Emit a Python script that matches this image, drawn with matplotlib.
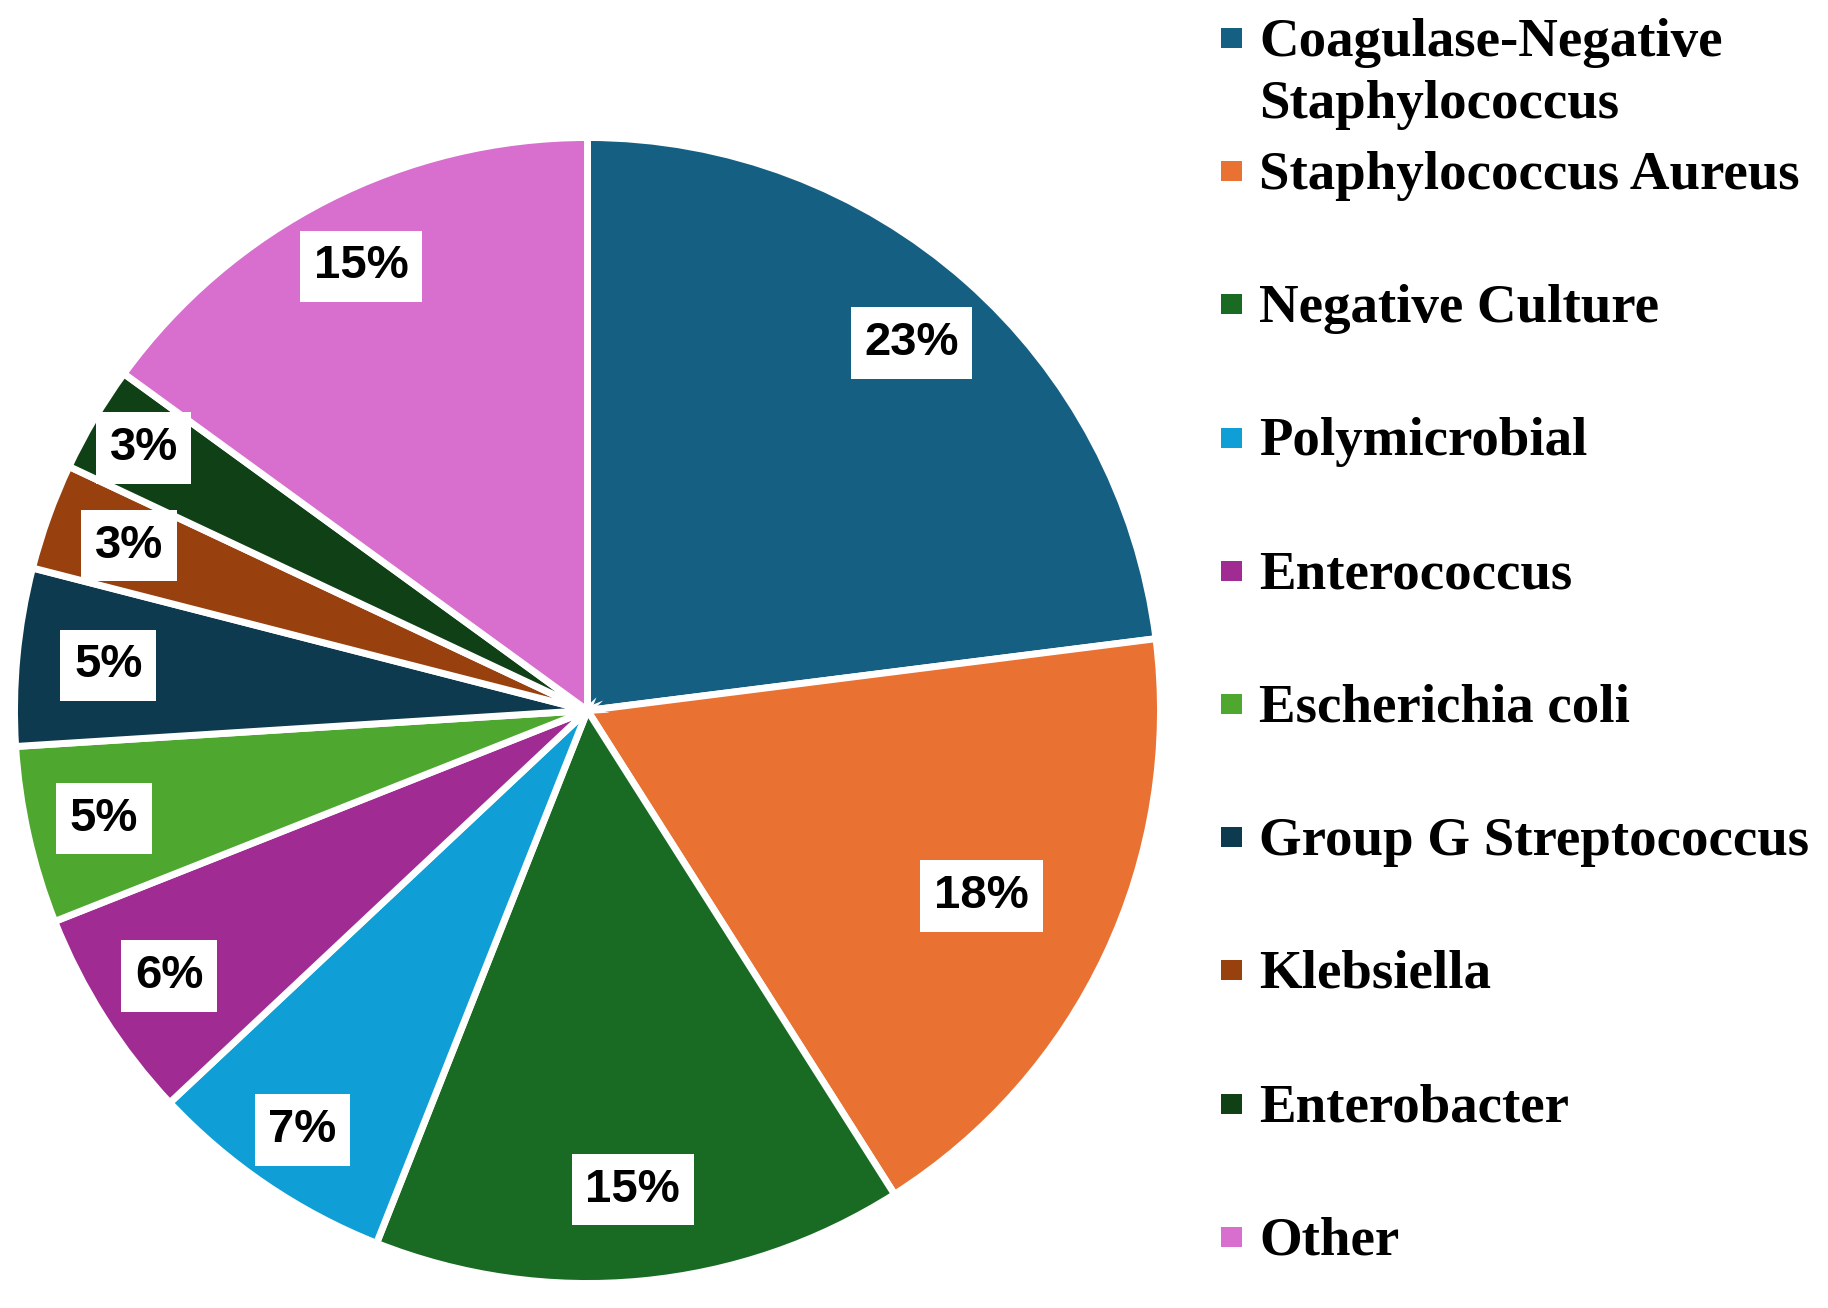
import matplotlib
matplotlib.use("Agg")
import matplotlib.pyplot as plt
from matplotlib.patches import Rectangle
import numpy as np

# ==========================================
# DATOS
# ==========================================
ORGANISMOS = [
    "Coagulase-Negative\nStaphylococcus",
    "Staphylococcus Aureus",
    "Negative Culture",
    "Polymicrobial",
    "Enterococcus",
    "Escherichia coli",
    "Group G Streptococcus",
    "Klebsiella",
    "Enterobacter",
    "Other",
]
PORCENTAJES = [23, 18, 15, 7, 6, 5, 5, 3, 3, 15]
COLORES = [
    "#156082", "#E97132", "#196B24", "#0F9ED5", "#A02B93",
    "#4EA72E", "#0D3A4E", "#99400F", "#0F4016", "#D86ECD",
]
# distancia de cada etiqueta al centro (fraccion del radio)
DIST_ETIQUETA = [0.855, 0.76, 0.84, 0.885, 0.865, 0.865, 0.84, 0.85, 0.90, 0.87]

# ==========================================
# LIENZO (coordenadas en pixeles)
# ==========================================
W, H = 1828, 1308
fig = plt.figure(figsize=(W / 100, H / 100), dpi=100)
ax = fig.add_axes([0, 0, 1, 1])

CENTRO = (587.5, H - 710.5)
RADIO = 573

wedges, _ = ax.pie(
    PORCENTAJES,
    colors=COLORES,
    startangle=90,
    counterclock=False,
    center=CENTRO,
    radius=RADIO,
    wedgeprops=dict(edgecolor="white", linewidth=5),
    frame=True,
)
ax.set_xlim(0, W)
ax.set_ylim(0, H)
ax.set_aspect("equal")
ax.axis("off")

# etiquetas de porcentaje
for w, pct, d in zip(wedges, PORCENTAJES, DIST_ETIQUETA):
    ang = np.deg2rad((w.theta1 + w.theta2) / 2)
    x = CENTRO[0] + d * RADIO * np.cos(ang)
    y = CENTRO[1] + d * RADIO * np.sin(ang)
    ax.text(x, y, f"{pct}%", ha="center", va="center",
            fontsize=34, fontweight="bold", family="Liberation Sans",
            bbox=dict(boxstyle="square,pad=0.29", facecolor="white",
                      edgecolor="none"))

# ==========================================
# LEYENDA
# ==========================================
for i, (nombre, color) in enumerate(zip(ORGANISMOS, COLORES)):
    yc = H - (38 + 133.2 * i)
    ax.add_patch(Rectangle((1221, yc - 10), 21, 20, facecolor=color,
                           edgecolor="none"))
    for j, linea in enumerate(nombre.split("\n")):
        ax.text(1259, yc - 17.5 - 63 * j, linea, ha="left", va="baseline",
                fontsize=39.5, fontweight="bold", family="Liberation Serif")

fig.savefig("out.png", dpi=100, facecolor="white")
